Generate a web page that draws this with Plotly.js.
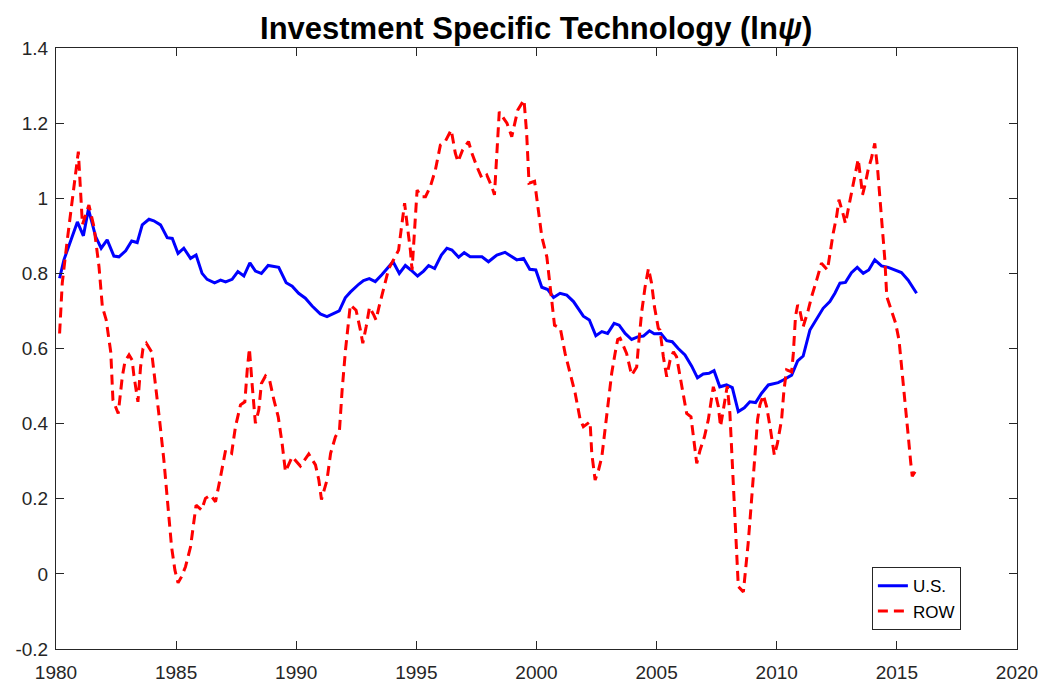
<!DOCTYPE html>
<html>
<head>
<meta charset="utf-8">
<script src="https://cdn.plot.ly/plotly-3.0.1.min.js"></script>
<style>html,body{margin:0;padding:0;background:#fff;}#chart{width:1039px;height:686px;}</style>
</head>
<body>
<div id="chart"></div>
<script>
const usDates = [1980.15,1980.33,1980.89,1981.14,1981.35,1981.65,1981.88,1982.13,1982.41,1982.62,1982.90,1983.15,1983.38,1983.59,1983.87,1984.07,1984.35,1984.63,1984.84,1985.08,1985.32,1985.60,1985.83,1986.08,1986.29,1986.60,1986.85,1987.06,1987.33,1987.57,1987.82,1988.07,1988.30,1988.55,1988.83,1989.27,1989.58,1989.83,1990.10,1990.38,1990.66,1991.00,1991.28,1991.56,1991.79,1992.04,1992.25,1992.60,1992.80,1993.04,1993.29,1993.57,1993.85,1994.03,1994.29,1994.54,1994.77,1995.05,1995.30,1995.51,1995.76,1996.04,1996.27,1996.48,1996.76,1996.99,1997.24,1997.73,1998.00,1998.35,1998.69,1998.97,1999.18,1999.46,1999.72,1999.97,2000.22,2000.47,2000.71,2000.98,2001.26,2001.54,2001.95,2002.20,2002.47,2002.72,2002.96,2003.23,2003.44,2003.69,2003.96,2004.21,2004.45,2004.70,2004.90,2005.18,2005.42,2005.65,2005.90,2006.18,2006.46,2006.70,2006.94,2007.18,2007.39,2007.63,2007.91,2008.15,2008.40,2008.65,2008.88,2009.12,2009.37,2009.65,2010.06,2010.27,2010.62,2010.87,2011.10,2011.38,2011.66,2011.93,2012.21,2012.42,2012.63,2012.86,2013.11,2013.35,2013.60,2013.83,2014.08,2014.36,2014.64,2014.92,2015.19,2015.47,2015.82];
const usValues = [0.787,0.836,0.937,0.900,0.971,0.898,0.867,0.889,0.846,0.844,0.860,0.886,0.882,0.929,0.944,0.940,0.929,0.895,0.893,0.853,0.867,0.840,0.849,0.800,0.784,0.775,0.782,0.777,0.784,0.805,0.793,0.828,0.806,0.800,0.821,0.816,0.775,0.766,0.747,0.734,0.713,0.692,0.685,0.694,0.700,0.735,0.750,0.771,0.781,0.786,0.778,0.797,0.818,0.831,0.800,0.821,0.809,0.793,0.806,0.821,0.813,0.849,0.867,0.862,0.843,0.855,0.844,0.844,0.831,0.849,0.856,0.844,0.836,0.840,0.811,0.809,0.763,0.757,0.736,0.747,0.742,0.725,0.686,0.676,0.634,0.645,0.640,0.667,0.662,0.640,0.624,0.631,0.633,0.647,0.639,0.640,0.621,0.618,0.600,0.583,0.553,0.522,0.532,0.534,0.541,0.498,0.503,0.496,0.432,0.442,0.458,0.456,0.481,0.503,0.509,0.516,0.529,0.567,0.580,0.649,0.680,0.707,0.725,0.747,0.774,0.776,0.802,0.816,0.800,0.809,0.836,0.820,0.816,0.809,0.802,0.782,0.747];

const rowDates = [1980.15,1980.26,1980.47,1980.68,1980.82,1980.93,1981.10,1981.37,1981.58,1981.79,1981.93,1982.09,1982.28,1982.37,1982.59,1982.76,1982.87,1983.04,1983.17,1983.24,1983.41,1983.52,1983.62,1983.76,1983.98,1984.14,1984.31,1984.49,1984.63,1984.81,1984.95,1985.08,1985.22,1985.39,1985.60,1985.83,1986.06,1986.22,1986.43,1986.64,1986.85,1987.06,1987.31,1987.47,1987.68,1987.86,1987.96,1988.05,1988.16,1988.30,1988.44,1988.55,1988.72,1988.89,1989.07,1989.25,1989.41,1989.55,1989.83,1990.17,1990.52,1990.80,1990.94,1991.05,1991.28,1991.43,1991.63,1991.80,1991.91,1992.05,1992.25,1992.49,1992.67,1992.77,1992.91,1993.05,1993.23,1993.32,1993.43,1993.64,1993.85,1994.05,1994.26,1994.33,1994.51,1994.61,1994.75,1994.82,1995.03,1995.20,1995.38,1995.58,1995.79,1996.00,1996.20,1996.45,1996.62,1996.73,1996.92,1997.17,1997.31,1997.52,1997.73,1997.93,1998.14,1998.25,1998.35,1998.45,1998.77,1998.97,1999.22,1999.48,1999.59,1999.69,1999.92,2000.08,2000.22,2000.43,2000.57,2000.68,2000.75,2000.99,2001.19,2001.40,2001.61,2001.82,2001.95,2002.23,2002.30,2002.44,2002.58,2002.72,2002.83,2002.99,2003.13,2003.27,2003.38,2003.48,2003.75,2003.96,2004.17,2004.24,2004.38,2004.52,2004.66,2004.79,2004.91,2005.07,2005.14,2005.28,2005.42,2005.56,2005.70,2005.83,2005.97,2006.14,2006.25,2006.43,2006.53,2006.67,2006.81,2006.99,2007.15,2007.26,2007.36,2007.46,2007.57,2007.66,2007.78,2007.85,2007.94,2008.05,2008.12,2008.23,2008.33,2008.40,2008.61,2008.74,2008.81,2008.93,2009.02,2009.12,2009.20,2009.30,2009.44,2009.58,2009.72,2009.90,2010.03,2010.20,2010.30,2010.41,2010.62,2010.69,2010.78,2010.87,2010.96,2011.10,2011.31,2011.45,2011.66,2011.86,2012.11,2012.21,2012.35,2012.49,2012.59,2012.77,2012.86,2012.97,2013.11,2013.25,2013.39,2013.50,2013.57,2013.69,2013.80,2013.94,2014.08,2014.19,2014.29,2014.39,2014.50,2014.58,2014.81,2014.95,2015.09,2015.23,2015.40,2015.49,2015.58,2015.64,2015.82];
const rowValues = [0.640,0.774,0.889,1.004,1.066,1.124,0.930,0.982,0.924,0.818,0.711,0.676,0.590,0.463,0.427,0.525,0.565,0.583,0.569,0.529,0.458,0.551,0.600,0.614,0.591,0.507,0.410,0.303,0.197,0.072,0.010,-0.024,-0.008,0.019,0.072,0.183,0.170,0.201,0.210,0.192,0.259,0.330,0.321,0.392,0.450,0.458,0.543,0.600,0.507,0.401,0.436,0.507,0.527,0.516,0.463,0.418,0.348,0.272,0.312,0.287,0.319,0.290,0.250,0.198,0.250,0.321,0.365,0.383,0.490,0.596,0.716,0.702,0.649,0.614,0.658,0.710,0.689,0.676,0.707,0.764,0.813,0.836,0.862,0.898,0.987,0.933,0.862,0.809,1.022,1.004,1.004,1.031,1.075,1.142,1.151,1.182,1.120,1.097,1.128,1.151,1.120,1.084,1.053,1.062,1.031,1.009,1.128,1.230,1.200,1.164,1.235,1.262,1.173,1.040,1.045,0.969,0.898,0.844,0.756,0.694,0.662,0.654,0.587,0.534,0.481,0.410,0.392,0.405,0.321,0.250,0.276,0.312,0.374,0.472,0.534,0.587,0.624,0.627,0.587,0.529,0.551,0.605,0.698,0.764,0.813,0.774,0.711,0.654,0.649,0.578,0.525,0.569,0.591,0.578,0.525,0.463,0.427,0.418,0.365,0.294,0.330,0.365,0.410,0.454,0.498,0.476,0.445,0.392,0.436,0.472,0.500,0.427,0.339,0.205,0.072,-0.034,-0.048,0.028,0.081,0.179,0.267,0.339,0.410,0.450,0.476,0.445,0.392,0.316,0.348,0.410,0.489,0.543,0.538,0.587,0.685,0.716,0.702,0.658,0.702,0.738,0.782,0.827,0.809,0.853,0.907,0.951,0.996,0.956,0.933,0.969,1.013,1.066,1.104,1.049,1.009,1.040,1.075,1.106,1.146,1.084,1.013,0.924,0.836,0.738,0.694,0.667,0.622,0.534,0.427,0.356,0.294,0.260,0.278];

const xTickVals = [1980,1985,1990,1995,2000,2005,2010,2015,2020];
const yTickVals = [-0.2,0,0.2,0.4,0.6,0.8,1,1.2,1.4];
const yTickText = ['-0.2','0','0.2','0.4','0.6','0.8','1','1.2','1.4'];
const seriesNames = ['U.S.','ROW'];

const axisColor = '#262626';
const fam = 'Liberation Sans, Arial, sans-serif';
const traces = [
  {x: usDates, y: usValues, name: seriesNames[0], type: 'scatter', mode: 'lines',
   line: {color: '#0000FF', width: 3}},
  {x: rowDates, y: rowValues, name: seriesNames[1], type: 'scatter', mode: 'lines',
   line: {color: '#FF0000', width: 3, dash: '10px,6px'}}
];
const layout = {
  width: 1039, height: 686,
  margin: {l: 56, r: 22, t: 48, b: 37},
  paper_bgcolor: '#fff', plot_bgcolor: '#fff',
  font: {family: fam, color: axisColor, size: 19},
  title: {text: '<b>Investment Specific Technology (ln<i>ψ</i>)</b>', x: 0.516, xanchor: 'center',
          xref: 'container', y: 0.959, yanchor: 'middle',
          font: {size: 31, color: '#000', family: fam}},
  xaxis: {range: [1980, 2020], tickvals: xTickVals, ticktext: xTickVals.map(String),
          showline: true, mirror: 'ticks', linecolor: axisColor, linewidth: 1,
          ticks: 'inside', ticklen: 8, tickcolor: axisColor, showgrid: false, zeroline: false,
          ticklabelstandoff: 6, ticklabeloverflow: 'allow',
          tickfont: {size: 19, color: axisColor, family: fam}},
  yaxis: {range: [-0.2, 1.4], tickvals: yTickVals, ticktext: yTickText,
          showline: true, mirror: 'ticks', linecolor: axisColor, linewidth: 1,
          ticks: 'inside', ticklen: 8, tickcolor: axisColor, showgrid: false, zeroline: false,
          ticklabelstandoff: 3,
          tickfont: {size: 19, color: axisColor, family: fam}},
  showlegend: true,
  legend: {x: 0.849, y: 0.136, xanchor: 'left', yanchor: 'top',
           bgcolor: '#fff', bordercolor: axisColor, borderwidth: 1,
           font: {size: 17, color: '#000', family: fam}, tracegroupgap: 0}
};
Plotly.newPlot('chart', traces, layout, {displayModeBar: false, staticPlot: true});
</script>
</body>
</html>
